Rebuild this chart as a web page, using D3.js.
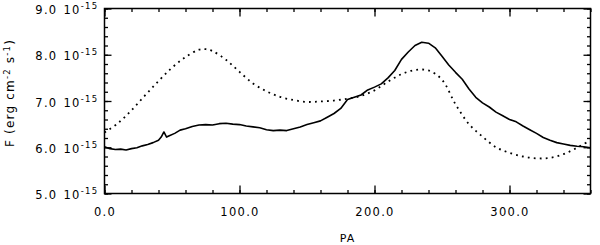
<!DOCTYPE html>
<head>
    <title>F vs PA</title>
    <script src="https://cdnjs.cloudflare.com/ajax/libs/d3/7.8.5/d3.min.js"></script>
    <style>
        body { margin: 0; background: #fff; }
        text { font-family: "DejaVu Sans", sans-serif; fill: #000; }
    </style>
</head>
<body>
    <div id="chart"></div>
    <script type="text/javascript">
        const width = 600;
        const height = 245;
        const marginLeft = 104.5;
        const marginRight = 9.5;
        const marginTop = 8.5;
        const marginBottom = 51.5;

        // solid curve (measured)
        const solidPA = [0, 4, 8, 12, 16, 20, 24, 28, 32, 36, 40, 42, 44, 46, 48, 52, 56, 60, 65, 70,
            75, 80, 85, 90, 95, 100, 105, 110, 115, 120, 125, 130, 135, 140, 145, 150, 155, 160, 165, 170,
            175, 180, 185, 190, 195, 200, 205, 210, 215, 220, 225, 230, 235, 240, 245, 250, 255, 260, 265, 270,
            275, 280, 285, 290, 295, 300, 305, 310, 315, 320, 325, 330, 335, 340, 345, 350, 355, 360];
        const solidF = [6.01, 5.97, 5.95, 5.96, 5.94, 5.97, 5.99, 6.03, 6.06, 6.10, 6.15, 6.22, 6.33, 6.22, 6.25, 6.30, 6.37, 6.40, 6.45, 6.48,
            6.49, 6.48, 6.51, 6.52, 6.50, 6.49, 6.46, 6.44, 6.42, 6.38, 6.36, 6.37, 6.36, 6.40, 6.44, 6.49, 6.53, 6.57, 6.65, 6.73,
            6.84, 7.03, 7.08, 7.13, 7.24, 7.30, 7.37, 7.50, 7.66, 7.90, 8.06, 8.20, 8.27, 8.25, 8.15, 7.97, 7.78, 7.62, 7.47, 7.26,
            7.08, 6.96, 6.87, 6.76, 6.68, 6.60, 6.55, 6.46, 6.38, 6.30, 6.21, 6.15, 6.10, 6.07, 6.04, 6.02, 6.01, 5.99];

        // dotted curve (model)
        const dotPA = [0, 10, 20, 30, 40, 50, 60, 70, 75, 80, 90, 100, 110, 120, 130, 140, 150, 160, 170, 180,
            190, 200, 210, 220, 230, 240, 250, 260, 270, 280, 290, 300, 310, 320, 330, 340, 350, 360];
        const dotF = [6.32, 6.52, 6.80, 7.12, 7.43, 7.72, 7.95, 8.11, 8.12, 8.08, 7.89, 7.63, 7.38, 7.21, 7.09, 7.02, 6.98, 6.99, 7.01, 7.05,
            7.11, 7.23, 7.42, 7.58, 7.67, 7.66, 7.46, 6.93, 6.50, 6.23, 6.00, 5.88, 5.80, 5.76, 5.77, 5.85, 5.99, 6.15];

        const xMajor = [0, 100, 200, 300];
        const xMinor = d3.range(0, 361, 20);
        const yMajor = [5, 6, 7, 8, 9];
        const yMinor = d3.range(5, 9.01, 0.2);

        const svg = d3.select("#chart")
            .append("svg")
            .attr("width", width)
            .attr("height", height);

        const xScale = d3.scaleLinear()
            .domain([0, 360])
            .range([marginLeft, width - marginRight]);
        const yScale = d3.scaleLinear()
            .domain([5, 9])
            .range([height - marginBottom, marginTop]);

        const plotW = width - marginRight - marginLeft;
        const plotH = height - marginBottom - marginTop;

        // frame
        svg.append("rect")
            .attr("x", marginLeft)
            .attr("y", marginTop)
            .attr("width", plotW)
            .attr("height", plotH)
            .attr("fill", "none")
            .attr("stroke", "#000")
            .attr("stroke-width", 1.5);

        function addAxis(axis, tx, ty) {
            const g = svg.append("g")
                .attr("transform", "translate(" + tx + "," + ty + ")")
                .call(axis);
            g.select(".domain").remove();
            g.selectAll(".tick line").attr("stroke", "#000").attr("stroke-width", 1.3);
            return g;
        }

        // x ticks, bottom and top, inward
        addAxis(d3.axisBottom(xScale).tickValues(xMinor).tickSize(-3.5).tickFormat(""), 0, height - marginBottom);
        addAxis(d3.axisTop(xScale).tickValues(xMinor).tickSize(-3.5).tickFormat(""), 0, marginTop);
        const xb = addAxis(d3.axisBottom(xScale).tickValues(xMajor).tickSize(-8).tickPadding(14)
            .tickFormat(d => d3.format(".1f")(d)), 0, height - marginBottom);
        addAxis(d3.axisTop(xScale).tickValues(xMajor).tickSize(-8).tickFormat(""), 0, marginTop);
        xb.selectAll(".tick text")
            .attr("font-size", "11.5px")
            .attr("letter-spacing", "1.3px")
            .attr("font-family", "DejaVu Sans, sans-serif");

        // y ticks, left and right, inward
        addAxis(d3.axisLeft(yScale).tickValues(yMinor).tickSize(-3.5).tickFormat(""), marginLeft, 0);
        addAxis(d3.axisRight(yScale).tickValues(yMinor).tickSize(-3.5).tickFormat(""), width - marginRight, 0);
        const yl = addAxis(d3.axisLeft(yScale).tickValues(yMajor).tickSize(-7).tickFormat(""), marginLeft, 0);
        addAxis(d3.axisRight(yScale).tickValues(yMajor).tickSize(-7).tickFormat(""), width - marginRight, 0);

        const yLab = yl.selectAll(".tick")
            .append("text")
            .attr("x", -6)
            .attr("y", 5)
            .attr("text-anchor", "end")
            .attr("font-size", "11.5px")
            .attr("letter-spacing", "1.3px")
            .attr("font-family", "DejaVu Sans, sans-serif");
        yLab.append("tspan").text(d => d3.format(".1f")(d));
        yLab.append("tspan").attr("dx", 6).text("10");
        yLab.append("tspan").attr("dy", -5).attr("font-size", "8.5px").text("-15");

        // curves
        const solidLine = d3.line()
            .x((d, i) => xScale(solidPA[i]))
            .y(d => yScale(d));
        svg.append("path")
            .datum(solidF)
            .attr("d", solidLine)
            .attr("fill", "none")
            .attr("stroke", "#000")
            .attr("stroke-width", 1.6)
            .attr("stroke-linejoin", "round");

        const dotLine = d3.line()
            .curve(d3.curveCatmullRom)
            .x((d, i) => xScale(dotPA[i]))
            .y(d => yScale(d));
        svg.append("path")
            .datum(dotF)
            .attr("d", dotLine)
            .attr("fill", "none")
            .attr("stroke", "#000")
            .attr("stroke-width", 1.8)
            .attr("stroke-dasharray", "1.8,4.2");

        // titles
        svg.append("text")
            .attr("x", (marginLeft + width - marginRight) / 2)
            .attr("y", 242)
            .attr("text-anchor", "middle")
            .attr("font-size", "11px")
            .attr("letter-spacing", "1px")
            .text("PA");

        const yt = svg.append("text")
            .attr("transform", "translate(14," + (marginTop + plotH / 2 - 8) + ") rotate(-90)")
            .attr("text-anchor", "middle")
            .attr("font-size", "12px")
            .attr("letter-spacing", "1.2px");
        yt.append("tspan").text("F (erg cm");
        yt.append("tspan").attr("dy", -4).attr("font-size", "8.5px").text("-2");
        yt.append("tspan").attr("dy", 4).text(" s");
        yt.append("tspan").attr("dy", -4).attr("font-size", "8.5px").text("-1");
        yt.append("tspan").attr("dy", 4).text(")");
    </script>
</body>
